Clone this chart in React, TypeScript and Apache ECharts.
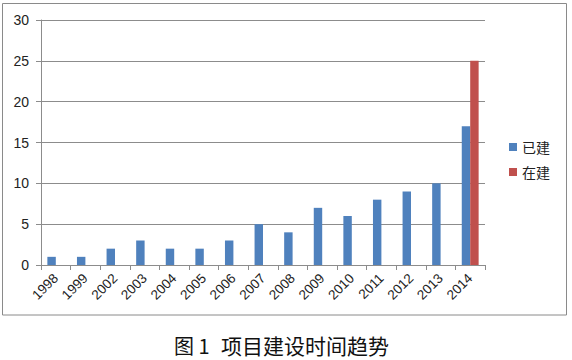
import React, { useEffect, useRef } from "react";
import * as echarts from "echarts";

const years = ["1998", "1999", "2002", "2003", "2004", "2005", "2006", "2007", "2008", "2009", "2010", "2011", "2012", "2013", "2014"];
const built = [1, 1, 2, 3, 2, 2, 3, 5, 4, 7, 6, 8, 9, 10, 17];
const building = [null, null, null, null, null, null, null, null, null, null, null, null, null, null, 25];
const seriesNames = ["已建", "在建"];
const captionPrefix = "图 1";
const captionTitle = "项目建设时间趋势";

export default function App() {
  const ref = useRef<HTMLDivElement>(null);
  useEffect(() => {
    if (!ref.current) return;
    const chart = echarts.init(ref.current, undefined, { renderer: "svg" });
    chart.setOption({
      animation: false,
      backgroundColor: "#ffffff",
      textStyle: { fontFamily: "'Liberation Sans', 'Noto Sans CJK SC', sans-serif" },
      grid: { left: 41, right: 87, top: 20, bottom: 95 },
      legend: {
        orient: "vertical",
        left: 509,
        top: 140,
        padding: 0,
        itemWidth: 8,
        itemHeight: 8,
        itemGap: 11,
        icon: "rect",
        textStyle: { fontSize: 14, color: "#222", fontFamily: "'Noto Sans CJK SC', sans-serif" },
        data: seriesNames,
      },
      xAxis: {
        type: "category",
        data: years,
        boundaryGap: true,
        axisLine: { show: true, lineStyle: { color: "#8c8c8c", width: 1 } },
        axisTick: { show: true, length: 5, lineStyle: { color: "#8c8c8c" } },
        axisLabel: { rotate: 45, fontSize: 13.5, color: "#222", margin: 11, interval: 0 },
      },
      yAxis: {
        type: "value",
        min: 0,
        max: 30,
        interval: 5,
        axisLine: { show: true, lineStyle: { color: "#8c8c8c", width: 1 } },
        axisTick: { show: true, length: 5, inside: false, lineStyle: { color: "#8c8c8c" } },
        splitLine: { show: true, lineStyle: { color: "#8c8c8c", width: 1 } },
        axisLabel: { fontSize: 14, color: "#222", margin: 12 },
      },
      series: [
        {
          name: seriesNames[0],
          type: "bar",
          data: built,
          itemStyle: { color: "#4F81BD" },
          barGap: "0%",
          barCategoryGap: "43%",
        },
        {
          name: seriesNames[1],
          type: "bar",
          data: building,
          itemStyle: { color: "#C0504D" },
          barGap: "0%",
          barCategoryGap: "43%",
        },
      ],
      graphic: [
        {
          type: "rect",
          shape: { x: 2.5, y: 3.5, width: 564, height: 311.5 },
          style: { fill: "none", stroke: "#8a8a8a", lineWidth: 1 },
          silent: true,
        },
        {
          type: "text",
          x: 174,
          y: 345,
          style: {
            text: captionPrefix,
            fontSize: 20,
            fill: "#111",
            fontFamily: "'Noto Sans CJK SC', serif",
            align: "left",
            verticalAlign: "middle",
          },
        },
        {
          type: "text",
          x: 221,
          y: 345,
          style: {
            text: captionTitle,
            fontSize: 21,
            fill: "#111",
            fontFamily: "'Noto Sans CJK SC', serif",
            align: "left",
            verticalAlign: "middle",
          },
        },
      ],
    });
    return () => chart.dispose();
  }, []);
  return <div ref={ref} style={{ position: "fixed", left: 0, top: 0, width: 572, height: 360 }} />;
}
